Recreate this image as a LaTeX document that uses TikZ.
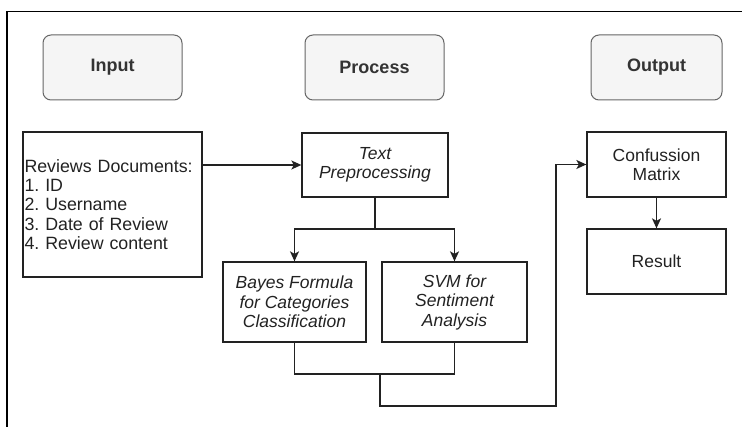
\documentclass[tikz,border=0pt]{standalone}
\usepackage{fontspec}
\setmainfont{Liberation Sans}
\usetikzlibrary{arrows.meta}
\definecolor{phfill}{HTML}{F5F5F5}
\definecolor{phdraw}{HTML}{666666}
\definecolor{phtext}{HTML}{333333}
\definecolor{ln}{HTML}{222222}
\frenchspacing
\begin{document}
\begin{tikzpicture}[x=1pt,y=-1pt,
  phase/.style={draw=phdraw, fill=phfill, rounded corners=8pt, line width=1pt,
    text=phtext, font=\fontsize{18}{21}\selectfont\bfseries,
    minimum width=139pt, minimum height=65pt, inner sep=0pt},
  box/.style={draw=ln, line width=1.3pt, align=center,
    font=\fontsize{17.5}{19.5}\selectfont, inner sep=0pt, text=ln},
  conn/.style={draw=ln, line width=1.3pt},
  arr/.style={conn, -{Stealth[length=10pt,width=9pt,inset=2.5pt]}}]
\useasboundingbox (0,0) rectangle (742,427);
\draw[line width=1.5pt] (7,427) -- (7,11.5) -- (742,11.5);

\node[phase] (in)  at (112.5,67.5) {Input};
\node[phase] (pr)  at (374.5,67.5) {Process};
\node[phase, minimum width=131pt] (out) at (656.5,67.5) {Output};

\node[box, align=left, text width=176pt, inner xsep=1.5pt, minimum height=145pt,
  font=\fontsize{17.8}{19.2}\selectfont] (rev) at (112.5,204.5)
  {Reviews Documents:\\1. ID\\2. Username\\3. Date of Review\\4. Review content};
\node[box, minimum width=146pt, minimum height=64pt, font=\fontsize{17.5}{19.5}\selectfont\itshape]
  (tp) at (375,165) {Text\\Preprocessing};
\node[box, minimum width=143pt, minimum height=80pt, font=\fontsize{17.5}{19.5}\selectfont\itshape]
  (bay) at (294.5,302) {Bayes Formula\\for Categories\\Classification};
\node[box, minimum width=145pt, minimum height=80pt, font=\fontsize{17.5}{19.5}\selectfont\itshape]
  (svm) at (454.5,302) {SVM for\\Sentiment\\Analysis};
\node[box, minimum width=139pt, minimum height=65pt] (cm) at (656.5,164.5) {Confussion\\Matrix};
\node[box, minimum width=139pt, minimum height=65pt] (res) at (656.5,261.5) {Result};

\coordinate (j1) at (375,229);
\coordinate (j2) at (380,374);
\coordinate (j3) at (556,406);

\draw[arr] (rev.east |- tp.west) -- (tp.west);
\draw[conn] (tp.south) -- (j1);
\draw[arr] (j1) -| (bay.north);
\draw[arr] (j1) -| (svm.north);
\draw[conn] (bay.south) |- (j2);
\draw[conn] (svm.south) |- (j2);
\draw[arr] (j2) |- (j3) |- (cm.west);
\draw[arr] (cm) -- (res);
\end{tikzpicture}
\end{document}
